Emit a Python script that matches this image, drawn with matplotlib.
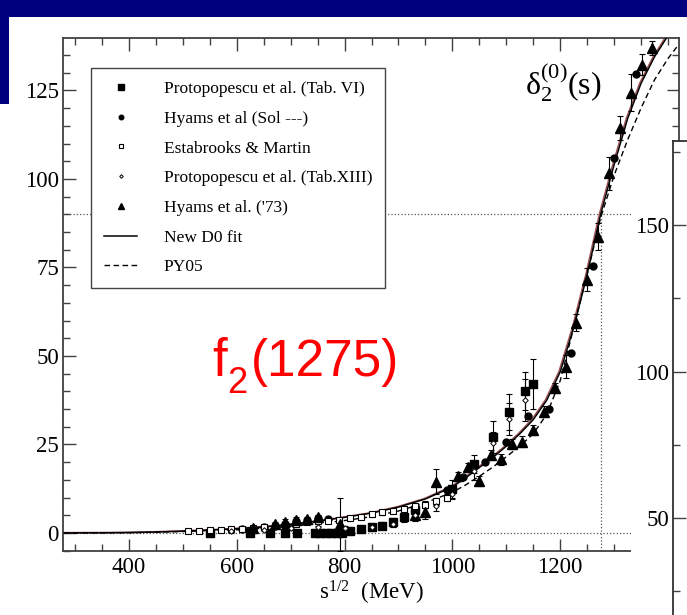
import matplotlib
matplotlib.use("Agg")
import matplotlib.pyplot as plt
import matplotlib.transforms as mtransforms
from matplotlib.patches import Rectangle
from matplotlib.ticker import MultipleLocator

plt.rcParams['font.family'] = ['Liberation Serif', 'DejaVu Serif']
plt.rcParams['mathtext.fontset'] = 'stix'

# fitted curves (MeV, degrees)
e_fit = [280, 350, 400, 450, 500, 550, 600, 650, 700, 750, 800, 850, 900, 950,
         1000, 1025, 1050, 1075, 1100, 1125, 1150, 1175, 1200, 1225, 1250, 1275,
         1300, 1325, 1350, 1375, 1400, 1420]
d0_fit = [0.0, 0.03, 0.1, 0.25, 0.5, 0.8, 1.2, 1.7, 2.4, 3.3, 4.4, 5.6, 7.3, 9.6,
          13.0, 15.6, 18.5, 21.3, 24.5, 28.0, 32.0, 37.5, 45.5, 58.0, 73.0, 90.0,
          104.0, 117.0, 127.0, 134.5, 140.5, 145.0]
py05 = [0.0, 0.02, 0.08, 0.2, 0.4, 0.65, 0.9, 1.35, 1.9, 2.6, 3.5, 4.6, 6.2, 8.5,
        11.5, 13.6, 16.0, 18.6, 21.5, 24.5, 28.0, 33.5, 43.0, 58.0, 73.0, 89.0,
        101.0, 111.0, 120.0, 128.0, 134.0, 138.0]

# Protopopescu et al. (Tab. VI)
e_p6 = [550, 624, 661, 689, 711, 745, 755, 765, 775, 785, 795, 810, 830, 850, 870,
        890, 910, 930, 1000, 1040, 1075, 1105, 1135, 1150]
d_p6 = [0.0, 0.0, 0.0, 0.1, 0.0, 0.1, 0.0, 0.0, 0.0, 0.0, 0.0, 0.6, 1.0, 1.6, 2.1,
        3.0, 4.5, 6.5, 12.4, 19.5, 27.2, 34.2, 40.1, 42.0]
err_p6 = [0.5, 0.6, 0.6, 0.6, 0.6, 0.6, 0.6, 0.6, 0.6, 0.6, 0.6, 0.7, 0.8, 0.9, 1.0,
          1.2, 1.5, 1.8, 2.5, 2.5, 4.5, 5.0, 5.5, 7.0]

# Hyams et al (Sol ---)
e_hs = [610, 630, 650, 670, 690, 710, 730, 750, 770, 990, 1019, 1061, 1099, 1140,
        1180, 1220, 1261, 1300, 1340]
d_hs = [1.0, 1.1, 1.7, 2.0, 2.6, 3.3, 3.6, 4.2, 3.8, 12.0, 15.9, 19.9, 25.7, 33.0,
        35.1, 50.8, 75.5, 106.0, 129.6]

# Estabrooks & Martin
e_em = [510, 530, 550, 570, 590, 610, 630, 650, 670, 690, 710, 730, 750, 770, 790,
        810, 830, 850, 870, 890, 910, 930, 950, 970, 990]
d_em = [0.6, 0.5, 0.7, 0.8, 1.0, 1.1, 1.3, 1.6, 1.9, 2.2, 2.6, 3.0, 3.3, 3.5, 3.7,
        4.1, 4.6, 5.3, 5.8, 6.3, 6.8, 7.5, 8.0, 8.9, 10.0]
err_em = [0.4, 0.4, 0.4, 0.4, 0.4, 0.4, 0.5, 0.5, 0.5, 0.5, 0.5, 0.5, 0.6, 0.6, 0.6,
          0.6, 0.6, 0.7, 0.7, 0.7, 0.8, 0.8, 0.9, 0.9, 1.0]

# Protopopescu et al. (Tab.XIII)
e_p13 = [590, 650, 700, 750, 800, 850, 890, 930, 970, 1000, 1040, 1075, 1105, 1135]
d_p13 = [0.5, 0.9, 1.3, 1.6, 1.5, 1.8, 2.6, 5.2, 7.5, 11.0, 17.5, 25.5, 32.2, 37.5]
err_p13 = [0.4, 0.4, 0.5, 0.5, 0.5, 0.6, 0.8, 1.0, 1.2, 1.5, 2.5, 3.0, 4.5, 6.0]

# Hyams et al. ('73)
e_h73 = [630, 670, 690, 710, 730, 750, 791, 930, 949, 970, 1010, 1029, 1050, 1071,
         1090, 1110, 1130, 1150, 1170, 1190, 1211, 1230, 1249, 1270, 1290, 1311,
         1331, 1351, 1371]
d_h73 = [1.4, 2.4, 3.0, 3.6, 3.8, 4.4, 2.5, 5.0, 6.0, 14.5, 16.1, 18.5, 14.7, 22.0,
         20.8, 25.1, 25.8, 29.1, 34.3, 40.9, 47.0, 59.4, 71.5, 83.7, 101.6, 114.5,
         124.3, 132.3, 137.0]
err_h73 = [0.8, 0.8, 0.8, 0.8, 0.8, 0.8, 7.5, 1.5, 2.0, 3.5, 1.0, 1.2, 1.5, 1.5,
           1.5, 1.5, 1.5, 1.5, 1.5, 1.5, 3.2, 2.4, 3.3, 3.8, 4.7, 3.4, 5.2, 3.0, 2.0]

f2_mass = 1275
x_ticks = [400, 600, 800, 1000, 1200]
right_ticks = [50, 100, 150]

W, H = 687, 615
fig = plt.figure(figsize=(W / 100, H / 100), dpi=100)
ax = fig.add_axes([63 / W, (H - 551) / H, (679 - 63) / W, (551 - 38) / H])

ax.axhline(0, ls=':', lw=0.9, color='#555555', zorder=1)
ax.axhline(90, ls=':', lw=0.9, color='#555555', zorder=1)
ax.vlines(f2_mass, -5, 90, linestyles=':', lw=0.9, color='#555555', zorder=1)

shift = mtransforms.offset_copy(ax.transData, fig=fig, x=-1.3, y=0.4, units='dots')
ax.plot(e_fit, d0_fit, color='#a05050', lw=1.0, transform=shift, zorder=2)
ax.plot(e_fit, d0_fit, color='black', lw=1.1, zorder=3, label='New D0 fit')
ax.plot(e_fit, py05, color='black', lw=1.0, ls=(0, (4, 2.5)), zorder=3, label='PY05')

eb = dict(fmt='none', ecolor='black', elinewidth=0.8, capsize=2.2, capthick=0.8, zorder=4)
ax.errorbar(e_p6, d_p6, yerr=err_p6, **eb)
ax.errorbar(e_em, d_em, yerr=err_em, **eb)
ax.errorbar(e_p13, d_p13, yerr=err_p13, **eb)
ax.errorbar(e_h73, d_h73, yerr=err_h73, **eb)

h1, = ax.plot(e_p6, d_p6, 's', color='black', ms=5.8, zorder=5,
              label='Protopopescu et al. (Tab. VI)')
h2, = ax.plot(e_hs, d_hs, 'o', color='black', ms=5, zorder=5,
              label='Hyams et al (Sol ---)')
h3, = ax.plot(e_em, d_em, 's', mfc='white', mec='black', mew=0.8, ms=4.7, zorder=5,
              label='Estabrooks & Martin')
h4, = ax.plot(e_p13, d_p13, 'D', mfc='white', mec='black', mew=0.7, ms=2.8, zorder=6,
              label='Protopopescu et al. (Tab.XIII)')
h5, = ax.plot(e_h73, d_h73, '^', color='black', ms=6.5, zorder=5,
              label="Hyams et al. ('73)")

ax.set_xlim(277.6, 1420.4)
ax.set_ylim(-5.1, 139.8)
ax.set_xticks(x_ticks)
ax.xaxis.set_minor_locator(MultipleLocator(50))
ax.yaxis.set_major_locator(MultipleLocator(25))
ax.yaxis.set_minor_locator(MultipleLocator(5))
ax.tick_params(which='both', direction='in', top=True, right=True,
               color='#404040', labelcolor='black', labelsize=16.5)
ax.tick_params(which='major', length=9, width=1)
ax.tick_params(which='minor', length=5, width=1)
ax.tick_params(axis='x', pad=4)
ax.tick_params(axis='y', pad=3)
for s in ax.spines.values():
    s.set_color('#404040')
    s.set_linewidth(1.3)

ax.set_xlabel(r'$\mathregular{s^{1/2}}$  (MeV)', fontsize=16.5, labelpad=1)

hl = ax.get_legend_handles_labels()[0]
order = [h1, h2, h3, h4, h5, hl[0], hl[1]]
leg = ax.legend(order, [h.get_label() for h in order], loc='upper left',
                bbox_to_anchor=((91 - 63) / 616, (551 - 68) / 513), borderaxespad=0,
                fontsize=12.5, markerscale=0.65, handlelength=1.9,
                handletextpad=1.55, borderpad=0.75, labelspacing=0.78,
                fancybox=False, framealpha=1, edgecolor='#444444')
leg.get_frame().set_linewidth(1.0)
leg.set_zorder(10)

fig.text(525 / W, (H - 95) / H, r'$\mathregular{\delta_2^{(0)}(s)}$',
         fontsize=23, va='baseline', ha='left')

fig.text(212 / W, (H - 376) / H, 'f', color='red', fontsize=38,
         family='Liberation Sans', va='baseline', ha='left')
fig.text(227 / W, (H - 393) / H, '2', color='red', fontsize=26,
         family='Liberation Sans', va='baseline', ha='left')
fig.text(399 / W, (H - 376) / H, '(1275)', color='red', fontsize=37,
         family='Liberation Sans', va='baseline', ha='right')

# second panel that overlaps the right part of the slide
fig.add_artist(Rectangle((631 / W, 0), (W - 631) / W, (H - 141) / H,
                         transform=fig.transFigure, facecolor='white',
                         edgecolor='none', zorder=2))
ax2 = fig.add_axes([673 / W, 0, 0.2, (H - 141) / H])
ax2.set_zorder(3)
ax2.set_xlim(0, 1)
ax2.set_ylim(16.9, 178.7)
ax2.set_xticks([])
ax2.set_yticks(right_ticks)
ax2.yaxis.set_minor_locator(MultipleLocator(25))
ax2.tick_params(axis='y', which='both', direction='in', color='#404040',
                labelsize=16.5, pad=3)
ax2.tick_params(axis='y', which='major', length=9, width=1)
ax2.tick_params(axis='y', which='minor', length=5, width=1)
ax2.spines['bottom'].set_visible(False)
for s in ax2.spines.values():
    s.set_color('#303030')
    s.set_linewidth(1.3)

# slide decoration
navy = '#00007f'
fig.add_artist(Rectangle((0, (H - 17) / H), 1, 17 / H, transform=fig.transFigure,
                         facecolor=navy, edgecolor='none', zorder=5))
fig.add_artist(Rectangle((0, (H - 104) / H), 9 / W, 104 / H, transform=fig.transFigure,
                         facecolor=navy, edgecolor='none', zorder=5))

fig.savefig('out.png', dpi=100)
